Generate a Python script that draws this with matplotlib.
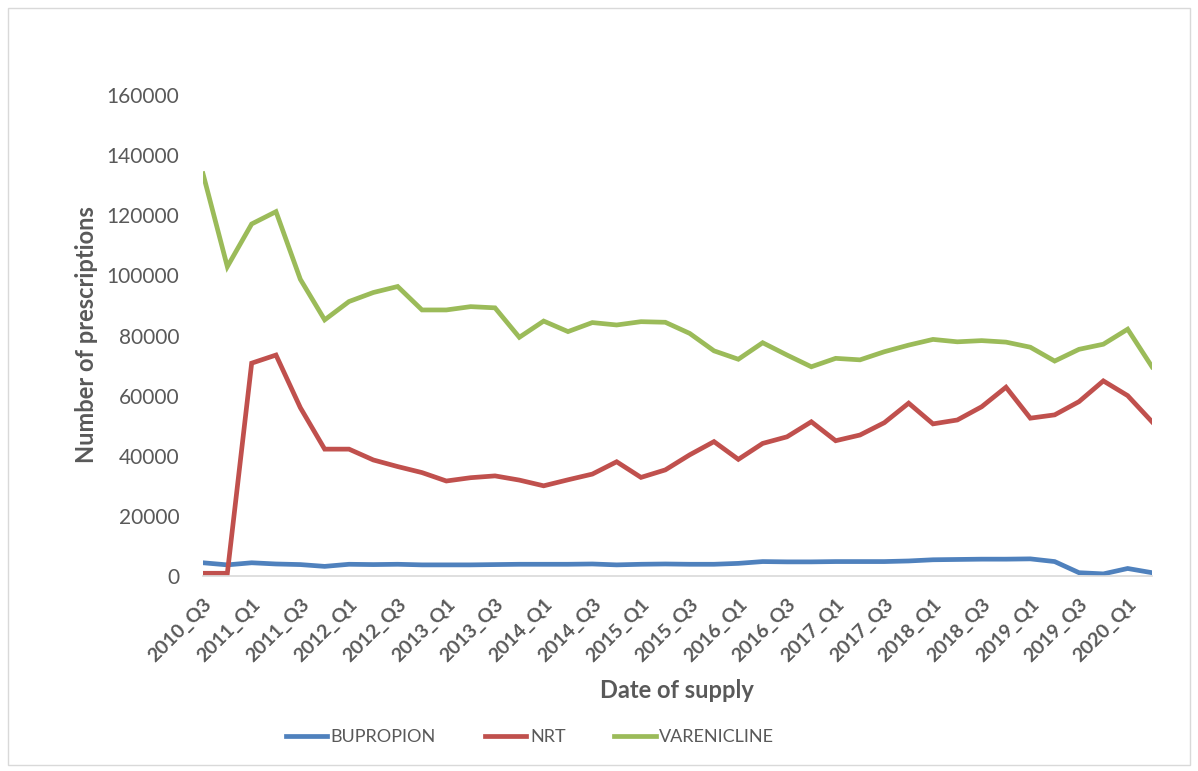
import matplotlib.pyplot as plt
from matplotlib.patches import Rectangle

# quarters 2010_Q3 .. 2020_Q2
quarters = [f'{y}_Q{q}' for y in range(2010, 2021) for q in range(1, 5)][2:42]

bupropion = [4400, 3700, 4400, 4000, 3800, 3200, 3900, 3800, 3900, 3700,
             3700, 3700, 3800, 3900, 3900, 3900, 4000, 3700, 3900, 4000,
             3900, 3900, 4200, 4800, 4700, 4700, 4800, 4800, 4800, 5000,
             5400, 5500, 5600, 5600, 5700, 4800, 1100, 700, 2500, 1100]

nrt = [900, 900, 70800, 73500, 56000, 42200, 42200, 38600, 36400, 34400,
       31600, 32700, 33300, 31900, 30000, 32000, 33900, 38000, 32800, 35300,
       40300, 44700, 38800, 44100, 46300, 51300, 45000, 46900, 51000, 57500,
       50600, 51900, 56300, 62800, 52500, 53600, 58000, 64900, 60000, 51300]

varenicline = [133800, 102900, 117100, 121200, 98700, 85200, 91300, 94300, 96300, 88500,
               88500, 89600, 89200, 79400, 84800, 81300, 84300, 83500, 84600, 84400,
               80700, 74900, 72100, 77600, 73500, 69600, 72400, 71900, 74600, 76800,
               78700, 77900, 78300, 77800, 76100, 71500, 75400, 77100, 82100, 69600]

series = [('BUPROPION', bupropion, '#4F81BD'),
          ('NRT', nrt, '#C0504D'),
          ('VARENICLINE', varenicline, '#9BBB59')]

plt.rcParams['font.family'] = ['Lato', 'DejaVu Sans']
grey = '#595959'

fig = plt.figure(figsize=(11.98, 7.71), dpi=100)
ax = fig.add_axes([203/1198, 1 - 576/771, (1152 - 203)/1198, (576 - 95)/771])

x = list(range(len(quarters)))
for name, vals, col in series:
    ax.plot(x, vals, color=col, lw=3.4, label=name, solid_joinstyle='miter')

ax.set_xlim(0, len(quarters) - 1)
ax.set_ylim(0, 160000)
ax.set_yticks(range(0, 160001, 20000))
ax.tick_params(axis='y', length=0, labelsize=15, labelcolor=grey, pad=17)
ax.set_xticks(x[::2])
ax.set_xticklabels(quarters[::2], rotation=45, ha='right', rotation_mode='anchor',
                   fontsize=14, fontweight='bold', color=grey)
ax.tick_params(axis='x', length=0, pad=14)

for s in ['top', 'right', 'left']:
    ax.spines[s].set_visible(False)
ax.spines['bottom'].set_color('#D9D9D9')
ax.spines['bottom'].set_linewidth(1.2)

fig.text(87/1198, 1 - 335/771, 'Number of prescriptions', fontsize=17, fontweight='bold',
         color=grey, ha='center', va='center', rotation=90)
fig.text(677/1198, 1 - 690/771, 'Date of supply', fontsize=17, fontweight='bold',
         color=grey, ha='center', va='center')

fig.legend(loc='center', bbox_to_anchor=(530/1198, 1 - 737/771), ncol=3, frameon=False,
           fontsize=13, handlelength=2.3, handletextpad=0.2, columnspacing=2.7,
           labelcolor=grey)

fig.patches.append(Rectangle((8/1198, 6/771), 1182/1198, 757/771, transform=fig.transFigure,
                             fill=False, edgecolor='#D9D9D9', lw=1))

fig.savefig('out.png', dpi=100)
